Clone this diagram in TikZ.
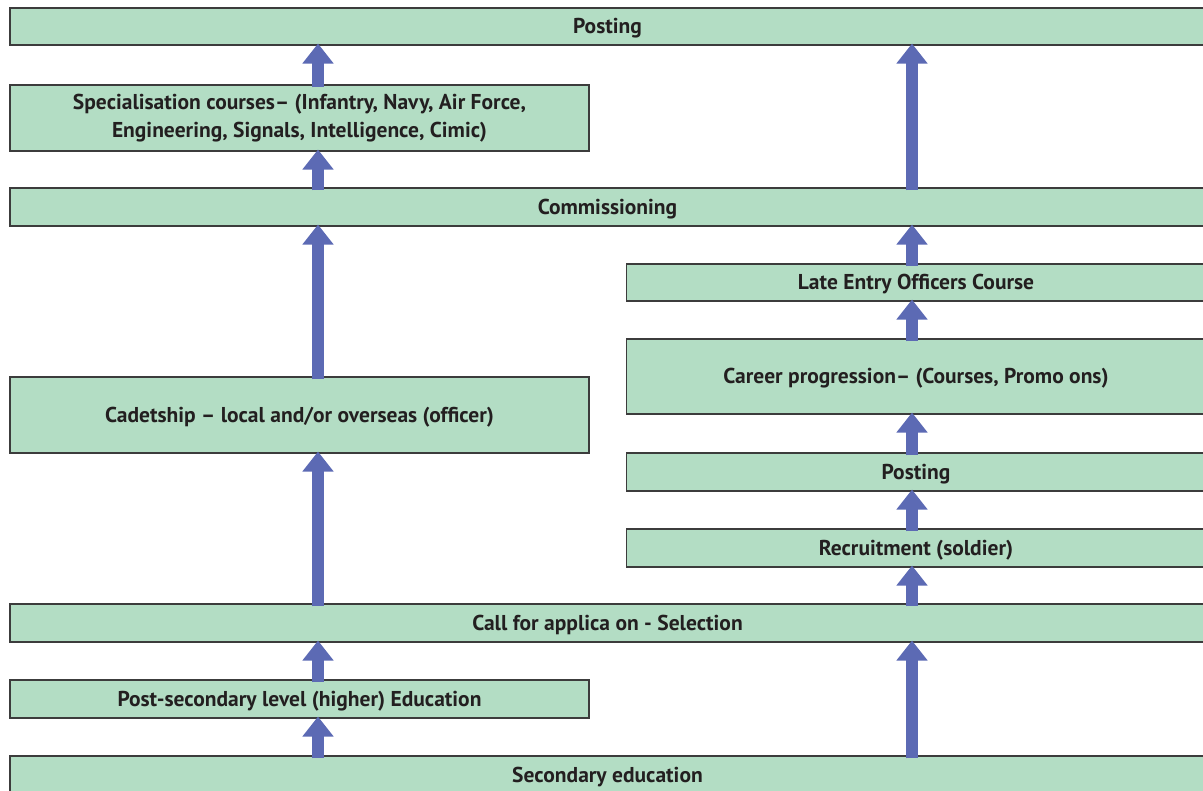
\documentclass[tikz,border=0pt]{standalone}
\usepackage{fontspec}
\setmainfont{PT Sans}
\usetikzlibrary{arrows.meta}

\definecolor{boxgreen}{RGB}{179,221,196}
\definecolor{arrowblue}{RGB}{92,106,180}
\definecolor{boxline}{RGB}{60,60,60}
\definecolor{inktext}{RGB}{35,31,32}

\begin{document}
\begin{tikzpicture}[x=1pt, y=-1pt, >={Triangle[width=30pt,length=20pt]}]

    % Define styles
    \tikzstyle{stage} = [rectangle, draw=boxline, line width=1.1pt, fill=boxgreen, inner sep=0pt, text=inktext, font=\bfseries\fontsize{21.5}{28}\selectfont, align=center]
    \tikzstyle{oneline} = [text height=18pt, text depth=3pt]
    \tikzstyle{wide} = [stage, minimum width=1195pt]
    \tikzstyle{half} = [stage, minimum width=579pt]
    \tikzstyle{up} = [->, draw=arrowblue, line width=12pt, shorten <=-3pt, shorten >=-2pt]

    \clip (0,0) rectangle (1203,791);

    % Columns of the arrows
    \coordinate (lcol) at (318,0);
    \coordinate (rcol) at (912,0);

    % Nodes
    \node (topposting) [wide, oneline, minimum height=37pt] at (607.5,26.5) {Posting};
    \node (spec) [half, minimum height=66pt] at (299.5,118) {Specialisation courses– (Infantry, Navy, Air Force,\\Engineering, Signals, Intelligence, Cimic)};
    \node (comm) [wide, oneline, minimum height=38pt] at (607.5,207) {Commissioning};
    \node (late) [half, oneline, minimum height=37pt] at (916,282.5) {Late Entry Officers Course};
    \node (career) [half, oneline, minimum height=75pt] at (916,376.5) {Career progression– (Courses, Promo ons)};
    \node (posting) [half, oneline, minimum height=38pt] at (916,472) {Posting};
    \node (recruit) [half, oneline, minimum height=38pt] at (916,548) {Recruitment (soldier)};
    \node (cadet) [half, oneline, minimum height=76pt] at (299.5,415) {Cadetship – local and/or overseas (officer)};
    \node (call) [wide, oneline, minimum height=38pt] at (607.5,623) {Call for applica on - Selection};
    \node (postsec) [half, oneline, minimum height=38pt] at (299.5,699) {Post-secondary level (higher) Education};
    \node (second) [wide, oneline, minimum height=38pt] at (607.5,775) {Secondary education};

    % Arrows, officer route
    \draw [up] (second.north -| lcol) -- (postsec.south -| lcol);
    \draw [up] (postsec.north -| lcol) -- (call.south -| lcol);
    \draw [up] (call.north -| lcol) -- (cadet.south -| lcol);
    \draw [up] (cadet.north -| lcol) -- (comm.south -| lcol);
    \draw [up] (comm.north -| lcol) -- (spec.south -| lcol);
    \draw [up] (spec.north -| lcol) -- (topposting.south -| lcol);

    % Arrows, soldier route
    \draw [up] (second.north -| rcol) -- (call.south -| rcol);
    \draw [up] (call.north -| rcol) -- (recruit.south -| rcol);
    \draw [up] (recruit.north -| rcol) -- (posting.south -| rcol);
    \draw [up] (posting.north -| rcol) -- (career.south -| rcol);
    \draw [up] (career.north -| rcol) -- (late.south -| rcol);
    \draw [up] (late.north -| rcol) -- (comm.south -| rcol);
    \draw [up] (comm.north -| rcol) -- (topposting.south -| rcol);

\end{tikzpicture}
\end{document}
